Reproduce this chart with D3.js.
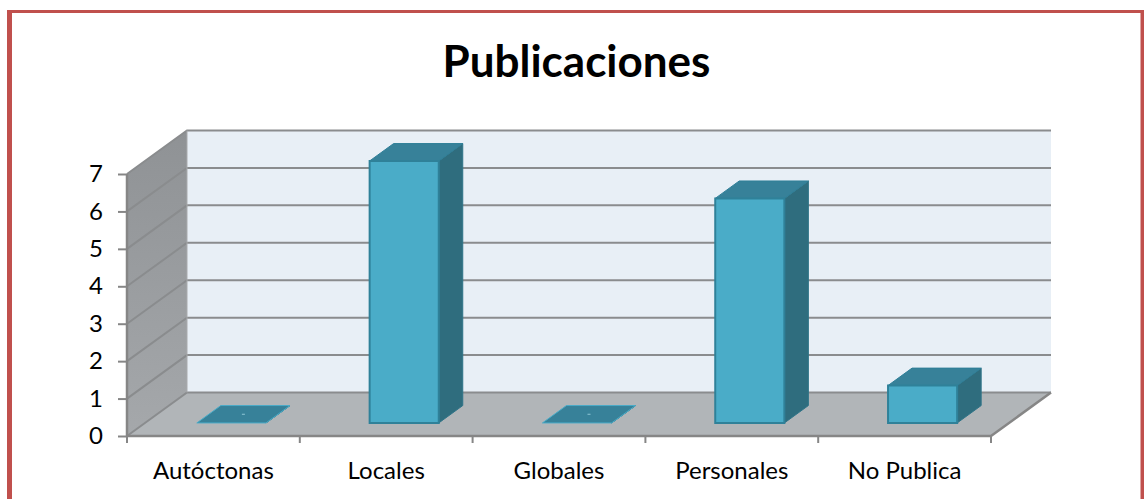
<!DOCTYPE html>
<html>
<head>
<meta charset="utf-8">
<script src="https://cdnjs.cloudflare.com/ajax/libs/d3/7.8.5/d3.min.js"></script>
<style>
html, body { margin: 0; padding: 0; background: #fff; overflow: hidden; }
svg { display: block; }
text { font-family: Lato, "Open Sans", sans-serif; fill: #000; }
.axis path { display: none; }
.axis line { stroke: #868686; stroke-width: 2; }
</style>
</head>
<body>
<svg id="viz" width="1144" height="499"></svg>
<script>
var categories = ["Autóctonas", "Locales", "Globales", "Personales", "No Publica"];
var values = [0, 7, 0, 6, 1];
var yTicks = [0, 1, 2, 3, 4, 5, 6, 7];
var chartTitle = "Publicaciones";

var svg = d3.select("#viz");

// front plane of the 3d box, the back wall is the same plane shifted by depth
var x = d3.scaleBand().domain(categories).range([127, 991]);
var y = d3.scaleLinear().domain([0, 7]).range([436, 174]);
var depthX = 60, depthY = -43.5;
var barWidth = 0.4;
var barDepth = [0.3, 0.7];

function pt(px, py, d) {
	return [px + depthX * d, py + depthY * d];
}
function poly(points) {
	return points.map(function (p) { return p.join(","); }).join(" ");
}

// outer frame, bottom side runs off the picture
var frame = svg.append("g").attr("fill", "#c0504d");
frame.append("rect").attr("x", 7).attr("y", 10).attr("width", 5).attr("height", 489);
frame.append("rect").attr("x", 7).attr("y", 10).attr("width", 1137).attr("height", 3);
frame.append("rect").attr("x", 1140.5).attr("y", 10).attr("width", 3.5).attr("height", 489);

svg.append("text")
	.attr("x", 576.5)
	.attr("y", 77)
	.attr("text-anchor", "middle")
	.attr("font-size", 44)
	.attr("font-weight", 700)
	.text(chartTitle);

var defs = svg.append("defs");
var wallGrad = defs.append("linearGradient").attr("id", "sideWall").attr("x1", 0).attr("y1", 0).attr("x2", 0).attr("y2", 1);
wallGrad.append("stop").attr("offset", "0%").attr("stop-color", "#8f9295");
wallGrad.append("stop").attr("offset", "100%").attr("stop-color", "#a5a8ab");

var x0 = x.range()[0], x1 = x.range()[1];
var yBase = y(0), yTop = y(7);

// walls and floor
svg.append("polygon")
	.attr("points", poly([pt(x0, yTop, 1), pt(x1, yTop, 1), pt(x1, yBase, 1), pt(x0, yBase, 1)]))
	.attr("fill", "#e8eff6");
svg.append("polygon")
	.attr("points", poly([pt(x0, yTop, 0), pt(x0, yTop, 1), pt(x0, yBase, 1), pt(x0, yBase, 0)]))
	.attr("fill", "url(#sideWall)");
svg.append("polygon")
	.attr("points", poly([pt(x0, yBase, 0), pt(x0, yBase, 1), pt(x1, yBase, 1), pt(x1, yBase, 0)]))
	.attr("fill", "#b1b5b8");

// gridlines over side wall and back wall
svg.append("g").selectAll("polyline")
	.data(yTicks)
	.enter()
	.append("polyline")
	.attr("points", function (d) {
		return poly([pt(x0, y(d), 0), pt(x0, y(d), 1), pt(x1, y(d), 1)]);
	})
	.attr("fill", "none")
	.attr("stroke", "#8a8c8e")
	.attr("stroke-width", 2);

// floor edges
svg.append("polyline")
	.attr("points", poly([pt(x0, yTop, 0), pt(x0, yBase, 0), pt(x1, yBase, 0), pt(x1, yBase, 1)]))
	.attr("fill", "none")
	.attr("stroke", "#868686")
	.attr("stroke-width", 2.5);
svg.append("line")
	.attr("x1", pt(x0, yTop, 1)[0]).attr("y1", pt(x0, yTop, 1)[1])
	.attr("x2", pt(x0, yBase, 1)[0]).attr("y2", pt(x0, yBase, 1)[1])
	.attr("stroke", "#a9abad")
	.attr("stroke-width", 1);

// bars
var bars = svg.append("g").selectAll("g")
	.data(categories.map(function (c, i) { return {cat: c, val: values[i]}; }))
	.enter()
	.append("g");

function barCorners(d) {
	var w = x.bandwidth() * barWidth;
	var left = x(d.cat) + (x.bandwidth() - w) / 2;
	return {left: left, right: left + w, top: y(d.val), base: y(0)};
}

bars.append("polygon")
	.attr("points", function (d) {
		var b = barCorners(d);
		return poly([pt(b.right, b.top, barDepth[0]), pt(b.right, b.top, barDepth[1]), pt(b.right, b.base, barDepth[1]), pt(b.right, b.base, barDepth[0])]);
	})
	.attr("fill", "#2f6d7e")
	.attr("stroke", "#2f7488")
	.attr("stroke-width", 1);
bars.append("polygon")
	.attr("points", function (d) {
		var b = barCorners(d);
		return poly([pt(b.left, b.top, barDepth[0]), pt(b.left, b.top, barDepth[1]), pt(b.right, b.top, barDepth[1]), pt(b.right, b.top, barDepth[0])]);
	})
	.attr("fill", "#378199")
	.attr("stroke", function (d) { return d.val === 0 ? "#4aacc8" : "#2f7f98"; })
	.attr("stroke-width", 1);
bars.filter(function (d) { return d.val > 0; }).append("polygon")
	.attr("points", function (d) {
		var b = barCorners(d);
		return poly([pt(b.left, b.top, barDepth[0]), pt(b.right, b.top, barDepth[0]), pt(b.right, b.base, barDepth[0]), pt(b.left, b.base, barDepth[0])]);
	})
	.attr("fill", "#4aacc8")
	.attr("stroke", "#2f8199")
	.attr("stroke-width", 2);
// tiny speck in the middle of the empty bars
bars.filter(function (d) { return d.val === 0; }).append("line")
	.attr("x1", function (d) { var b = barCorners(d); return pt((b.left + b.right) / 2 - 1.5, b.top, 0.5)[0]; })
	.attr("x2", function (d) { var b = barCorners(d); return pt((b.left + b.right) / 2 + 1.5, b.top, 0.5)[0]; })
	.attr("y1", function (d) { var b = barCorners(d); return pt(b.left, b.top, 0.5)[1]; })
	.attr("y2", function (d) { var b = barCorners(d); return pt(b.left, b.top, 0.5)[1]; })
	.attr("stroke", "#8fc6d6")
	.attr("stroke-width", 1);

// axes
var xAxis = svg.append("g")
	.attr("class", "axis")
	.attr("transform", "translate(0," + yBase + ")")
	.call(d3.axisBottom(x).tickSize(0).tickPadding(26));
xAxis.selectAll("text").attr("font-size", 24).attr("fill", "#000");
xAxis.selectAll(".sep")
	.data(d3.range(categories.length + 1))
	.enter()
	.append("line")
	.attr("class", "sep")
	.attr("x1", function (i) { return x0 + i * x.step(); })
	.attr("x2", function (i) { return x0 + i * x.step(); })
	.attr("y1", 0)
	.attr("y2", 7);

var yAxis = svg.append("g")
	.attr("class", "axis")
	.attr("transform", "translate(" + x0 + ",0)")
	.call(d3.axisLeft(y).tickValues(yTicks).tickFormat(d3.format("d")).tickSize(9).tickPadding(15));
yAxis.selectAll("text").attr("font-size", 24).attr("fill", "#000");
</script>
</body>
</html>
